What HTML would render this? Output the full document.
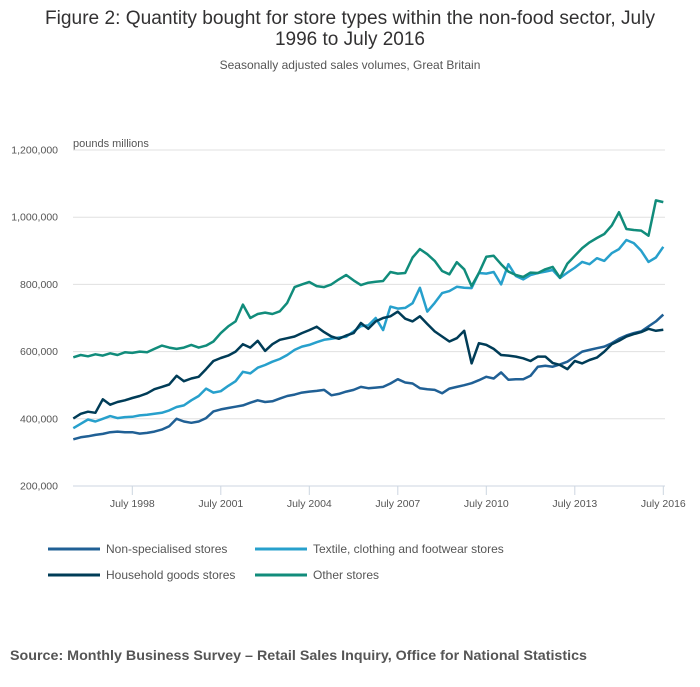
<!DOCTYPE html>
<html><head><meta charset="utf-8">
<style>
body{margin:0;background:#fff;width:700px;height:682px;overflow:hidden;font-family:"Liberation Sans",sans-serif;}
</style></head>
<body>
<svg width="700" height="682" xmlns="http://www.w3.org/2000/svg">
<text x="350" y="24" text-anchor="middle" font-size="19" fill="#323132" textLength="610" lengthAdjust="spacingAndGlyphs">Figure 2: Quantity bought for store types within the non-food sector, July</text>
<text x="350" y="45" text-anchor="middle" font-size="19" fill="#323132">1996 to July 2016</text>
<text x="350" y="69" text-anchor="middle" font-size="12" fill="#555">Seasonally adjusted sales volumes, Great Britain</text>
<text x="73" y="147" font-size="11" fill="#555">pounds millions</text>
<g id="grid"></g>
<g id="series"></g>
<g id="legend"></g>
<text x="10" y="660" font-size="14" font-weight="bold" fill="#555" textLength="577" lengthAdjust="spacingAndGlyphs">Source: Monthly Business Survey – Retail Sales Inquiry, Office for National Statistics</text>
</svg>
<script>
const yTicks=[200000,400000,600000,800000,1000000,1200000];
const yTickLabels=["200,000","400,000","600,000","800,000","1,000,000","1,200,000"];
const xTicks=[1998.5,2001.5,2004.5,2007.5,2010.5,2013.5,2016.5];
const xTickLabels=["July 1998","July 2001","July 2004","July 2007","July 2010","July 2013","July 2016"];
const startYear=1996.5, stepYears=0.25;
const seriesNames=["Non-specialised stores","Textile, clothing and footwear stores","Household goods stores","Other stores"];
const nonSpecialised=[339,345,348,352,355,360,362,360,360,356,358,362,368,378,400,392,388,392,402,422,428,432,436,440,448,455,450,452,460,468,472,478,481,483,486,470,474,481,486,495,491,493,495,505,518,508,505,491,488,486,476,490,495,500,506,515,525,520,538,516,518,518,528,555,558,555,562,570,585,600,605,610,615,625,638,648,655,660,675,690,710];
const textile=[372,385,398,392,400,408,402,405,406,410,412,415,418,425,435,440,455,468,490,478,482,498,512,540,535,552,560,570,578,590,605,615,620,628,635,638,642,644,660,676,678,700,664,734,728,730,744,790,719,745,774,780,793,790,789,834,832,837,800,860,825,815,828,834,838,843,819,835,850,867,860,878,870,893,905,932,923,900,867,880,912];
const household=[401,415,421,418,458,442,450,455,462,468,476,488,495,502,528,512,520,525,548,572,581,588,600,622,612,632,602,622,635,640,645,655,664,674,658,645,638,648,655,685,668,690,700,705,719,698,690,705,682,660,645,630,640,662,565,625,620,608,590,588,585,580,572,585,585,566,560,548,572,565,575,582,600,622,632,645,652,658,668,662,665];
const other=[583,590,586,592,588,595,590,598,596,600,598,608,618,612,608,612,620,612,618,630,655,675,690,740,700,712,716,712,720,745,792,800,807,795,792,800,815,828,812,798,805,808,810,837,832,834,880,905,890,870,840,830,866,845,795,834,882,885,860,838,828,822,835,834,845,852,820,862,885,908,925,938,950,975,1015,965,962,960,945,1050,1045];
const colors=["#206095","#27a0cc","#003c57","#118c7b"];
const NS="http://www.w3.org/2000/svg";
function xs(yr){return 73.3+(yr-startYear)*29.5;}
function ys(v){return 486-(v-200000)*0.000336;}
const grid=document.getElementById('grid');
yTicks.forEach((t,i)=>{
  if(i>0){const l=document.createElementNS(NS,'line');
  l.setAttribute('x1',73);l.setAttribute('x2',665);l.setAttribute('y1',ys(t));l.setAttribute('y2',ys(t));
  l.setAttribute('stroke','#e0e0e0');l.setAttribute('stroke-width','1');
  
  
  grid.appendChild(l);}
  const tx=document.createElementNS(NS,'text');
  tx.setAttribute('x',58);tx.setAttribute('y',ys(t)+3.5);tx.setAttribute('text-anchor','end');
  tx.setAttribute('font-size','10.5');tx.setAttribute('fill','#555');tx.textContent=yTickLabels[i];
  
  
  grid.appendChild(tx);
});
const ax=document.createElementNS(NS,'line');
ax.setAttribute('x1',73);ax.setAttribute('x2',665);ax.setAttribute('y1',486);ax.setAttribute('y2',486);
ax.setAttribute('stroke','#ccd6e0');ax.setAttribute('stroke-width','1');


grid.appendChild(ax);
xTicks.forEach((t,i)=>{
  const l=document.createElementNS(NS,'line');
  l.setAttribute('x1',xs(t));l.setAttribute('x2',xs(t));l.setAttribute('y1',486);l.setAttribute('y2',495);
  l.setAttribute('stroke','#ccd6e0');
  
  
  grid.appendChild(l);
  const tx=document.createElementNS(NS,'text');
  tx.setAttribute('x',xs(t));tx.setAttribute('y',507);tx.setAttribute('text-anchor','middle');
  tx.setAttribute('font-size','10.5');tx.setAttribute('fill','#555');tx.textContent=xTickLabels[i];
  
  
  grid.appendChild(tx);
});
const sg=document.getElementById('series');
[nonSpecialised,textile,household,other].forEach((arr,si)=>{
  const pts=arr.map((v,i)=>xs(startYear+i*stepYears).toFixed(1)+','+ys(v*1000).toFixed(1)).join(' ');
  const p=document.createElementNS(NS,'polyline');
  p.setAttribute('points',pts);p.setAttribute('fill','none');p.setAttribute('stroke',colors[si]);
  p.setAttribute('stroke-width','2.5');p.setAttribute('stroke-linejoin','round');
  
  
  sg.appendChild(p);
});
const lg=document.getElementById('legend');
const lpos=[[48,549],[255,549],[48,575],[255,575]];
seriesNames.forEach((n,i)=>{
  const [x,y]=lpos[i];
  const l=document.createElementNS(NS,'line');
  l.setAttribute('x1',x);l.setAttribute('x2',x+52);l.setAttribute('y1',y);l.setAttribute('y2',y);
  l.setAttribute('stroke',colors[i]);l.setAttribute('stroke-width','3');
  
  
  lg.appendChild(l);
  const t=document.createElementNS(NS,'text');
  t.setAttribute('x',x+58);t.setAttribute('y',y+4);t.setAttribute('font-size','12');t.setAttribute('fill','#555');
  t.textContent=n;
  
  
  lg.appendChild(t);
});
</script>
</body></html>
